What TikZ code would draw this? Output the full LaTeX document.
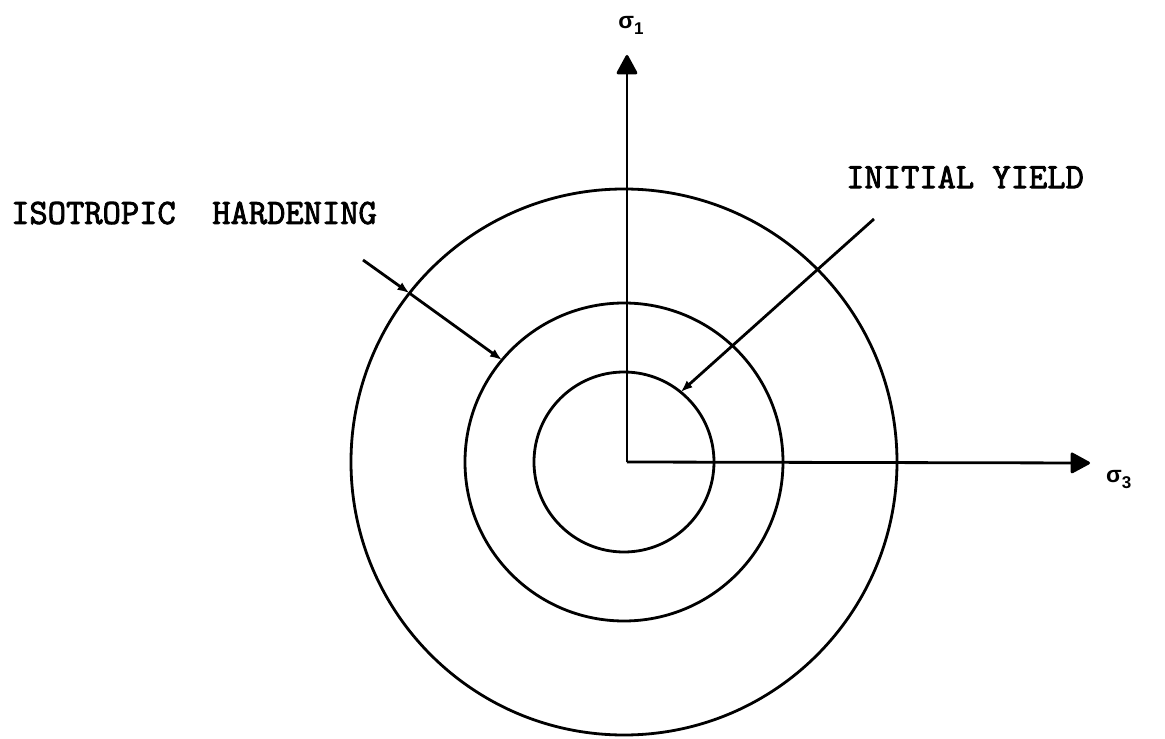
\documentclass[tikz,border=0pt]{standalone}
\usepackage{fontspec}
\setmonofont[FakeBold=2.5]{Latin Modern Mono}
\newfontfamily\sigfont{Liberation Sans}
\usetikzlibrary{arrows.meta}
\tikzstyle{yieldline}=[draw,line width=2.8pt]
\tikzstyle{axis}=[-{Triangle[length=21pt,width=22pt,round]},draw,line width=2.8pt]
\tikzstyle{ptr}=[-{Latex[length=12pt,width=9pt]},draw,line width=2.8pt]
\tikzstyle{lbl}=[anchor=west,inner sep=0pt,font={\ttfamily\fontsize{35.5}{36}\selectfont}]
\tikzstyle{sig}=[inner sep=0pt,font={\sigfont\bfseries\fontsize{23}{23}\selectfont}]
\newcommand{\sigsub}[1]{σ\raisebox{-6pt}{\fontsize{17}{17}\selectfont #1}}

\begin{document}
\begin{tikzpicture}[x=1pt,y=1pt]
    \useasboundingbox (-624,-277) rectangle (541,462);
    \coordinate (O) at (0,0);
    \coordinate (A) at (3,0);
    \coordinate (S1tip) at (3,407);
    \coordinate (S3tip) at (466,-1);
    % the three yield surfaces
    \draw[yieldline] (O) circle (90pt);
    \draw[yieldline] (O) circle (159pt);
    \draw[yieldline] (O) circle (273pt);
    % stress axes
    \draw[axis] (A) -- (S1tip);
    \draw[axis] (A) -- (S3tip);
    \node[sig] (s1) at (7,437) {\sigsub{1}};
    \node[sig,anchor=west] (s3) at (482,-18) {\sigsub{3}};
    % labels
    \node[lbl] (iso) at (-613,249) {ISOTROPIC\ \ HARDENING};
    \node[lbl] (ini) at (222,285) {INITIAL YIELD};
    \coordinate (isoS) at (-261,202);
    \coordinate (isoL) at (141.8:273);
    \coordinate (isoM) at (140.1:159);
    \coordinate (iniS) at (250,243);
    \coordinate (iniE) at (51:90);
    \draw[ptr] (isoS) -- (isoL);
    \draw[ptr] (isoL) -- (isoM);
    \draw[ptr] (iniS) -- (iniE);
\end{tikzpicture}
\end{document}
